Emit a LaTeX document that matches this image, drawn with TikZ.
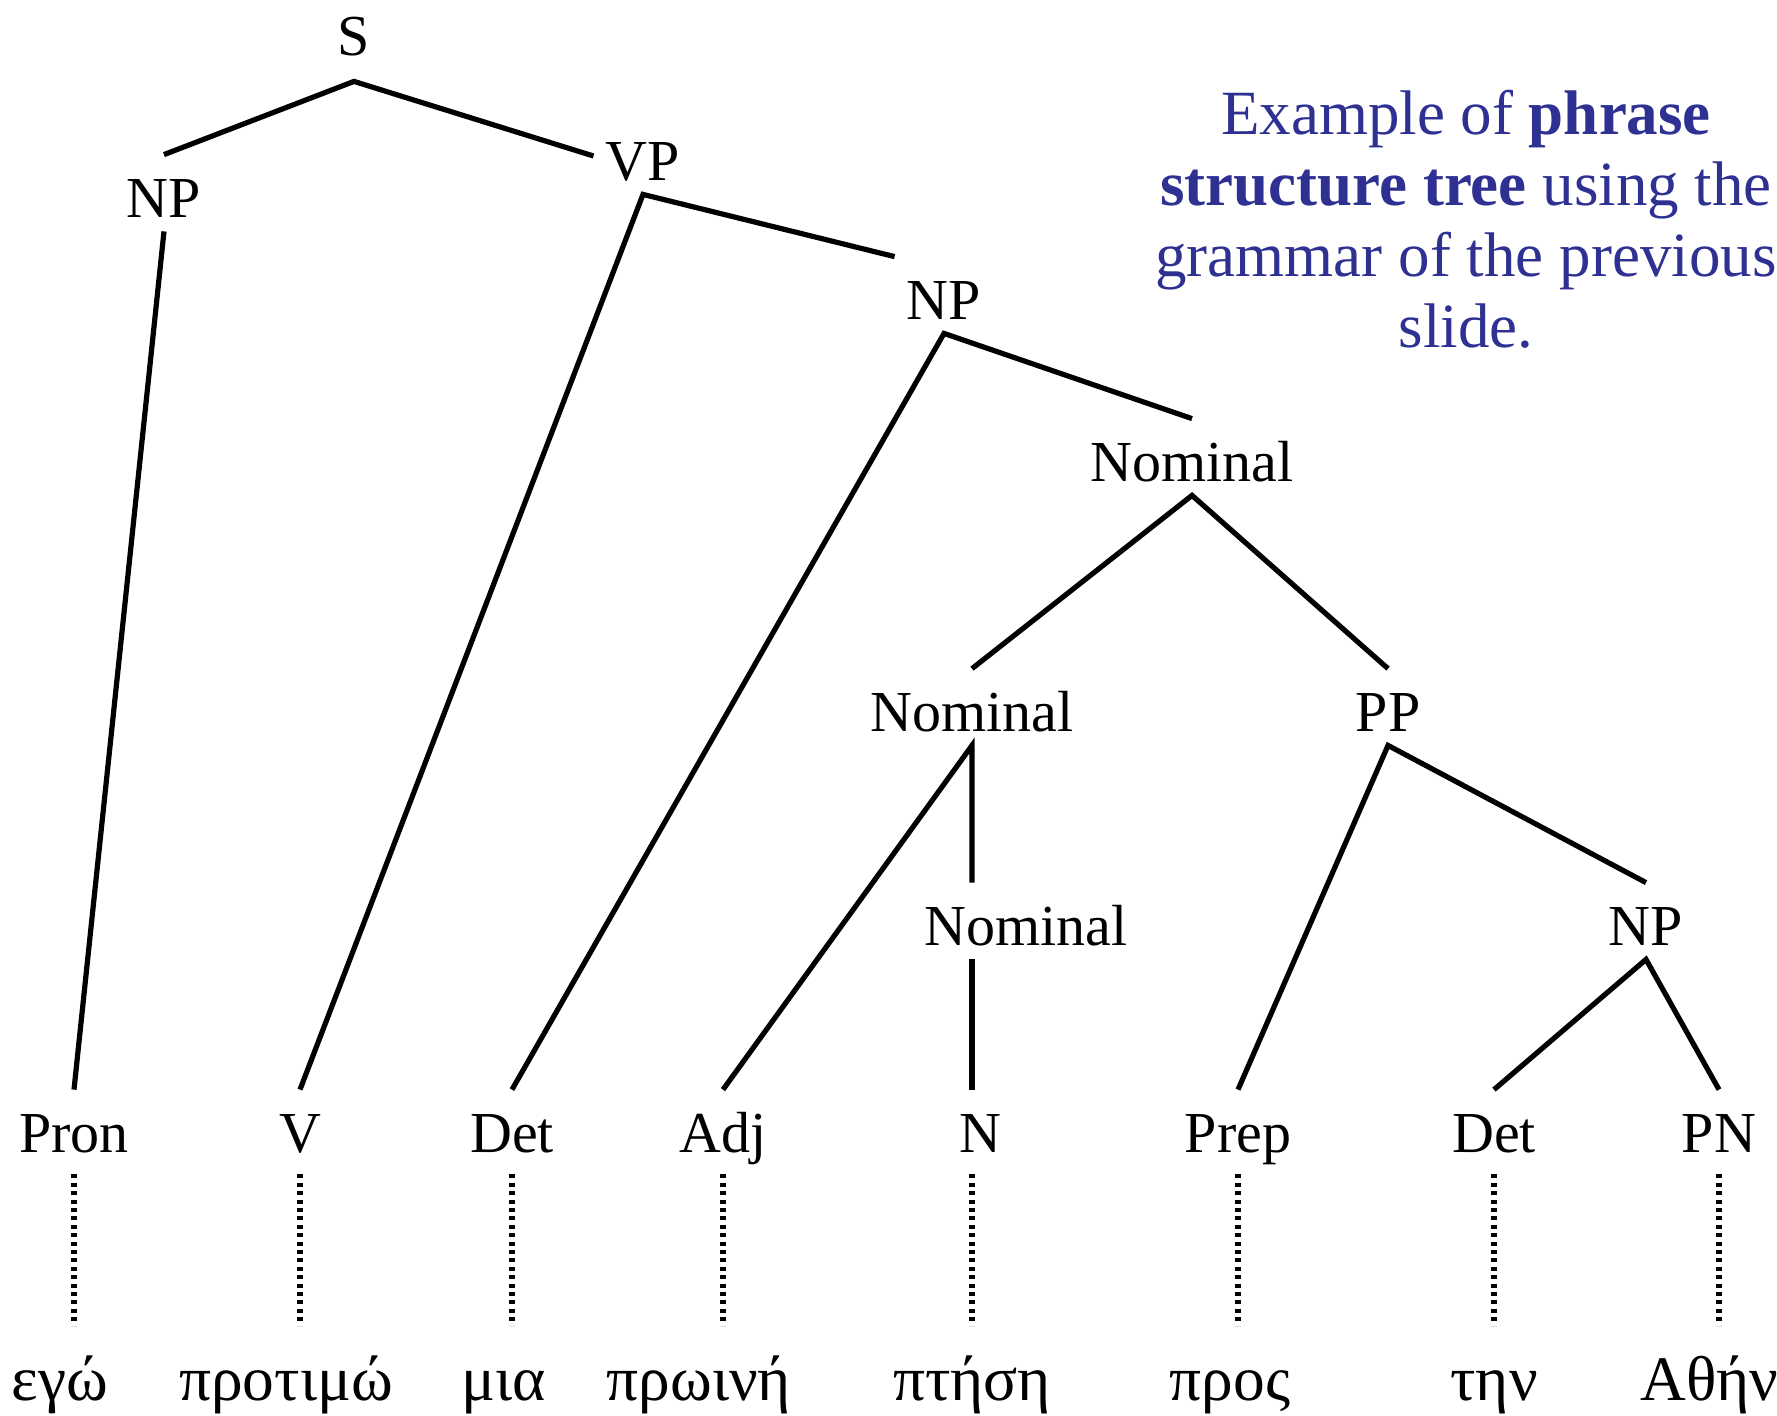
\documentclass[tikz,border=0pt]{standalone}
\usepackage{fontspec}
\setmainfont{Liberation Serif}
\usepackage{tikz}
\usetikzlibrary{positioning}
\definecolor{noteblue}{RGB}{46,49,146}

\begin{document}
\begin{tikzpicture}[
    x=0.5pt, y=-0.5pt,
    cat/.style={anchor=base, inner xsep=6pt, inner ysep=5pt, font=\fontsize{29}{29}\selectfont, text height=26pt, text depth=2pt},
    tag/.style={cat, text depth=6pt},
    word/.style={inner xsep=0pt, inner ysep=15pt, anchor=base, font=\fontsize{31.7}{31.7}\selectfont, text height=22pt},
    branch/.style={line width=2.6pt},
    leaf/.style={line width=2.6pt, dash pattern=on 2pt off 2.2pt}
  ]
    \useasboundingbox (0,0) rectangle (1777,1415);

    % Phrases
    \node[cat, text depth=8pt] (s) at (354,55) {S};
    \node[cat] (np1) at (164,217) {NP};
    \node[cat] (vp) at (643,180) {VP};
    \node[cat] (np2) at (944,319) {NP};
    \node[cat] (nom1) at (1192,481) {Nominal};
    \node[cat] (nom2) at (972,731) {Nominal};
    \node[cat] (pp) at (1388,731) {PP};
    \node[cat] (nom3) at (1026,945) {Nominal};
    \node[cat] (np3) at (1646,945) {NP};

    % Parts of speech
    \node[tag] (pron) at (74,1152) {Pron};
    \node[tag] (v) at (300,1152) {V};
    \node[tag] (det1) at (512,1152) {Det};
    \node[tag] (adj) at (723,1152) {Adj};
    \node[tag] (n) at (980,1152) {N};
    \node[tag] (prep) at (1238,1152) {Prep};
    \node[tag] (det2) at (1494,1152) {Det};
    \node[tag] (pn) at (1719,1152) {PN};

    % Words
    \node[word] (egw) at (60,1400) {εγώ};
    \node[word] (protimw) at (286,1400) {προτιμώ};
    \node[word] (mia) at (504,1400) {μια};
    \node[word] (prwini) at (699,1400) {πρωινή};
    \node[word] (ptisi) at (972,1400) {πτήση};
    \node[word] (pros) at (1230,1400) {προς};
    \node[word] (tin) at (1494,1400) {την};
    \node[word, anchor=base west] (athina) at (1640,1400) {Αθήν};

    % Branches
    \draw[branch] (np1.north) -- (s.south) -- (vp.west);
    \draw[branch] (np1.south) -- (pron.north);
    \draw[branch] (v.north) -- (vp.south) -- (np2.north west);
    \draw[branch] (det1.north) -- (np2.south) -- (nom1.north);
    \draw[branch] (nom2.north) -- (nom1.south) -- (pp.north);
    \draw[branch] (adj.north) -- (nom2.south) -- (nom2.south |- nom3.north);
    \draw[branch] (nom2.south |- nom3.south) -- (nom2.south |- n.north);
    \draw[branch] (prep.north) -- (pp.south) -- (np3.north);
    \draw[branch] (det2.north) -- (np3.south) -- (pn.north);

    % Lexical links
    \draw[leaf] (pron.south) -- (pron.south |- egw.north);
    \draw[leaf] (v.south) -- (v.south |- protimw.north);
    \draw[leaf] (det1.south) -- (det1.south |- mia.north);
    \draw[leaf] (adj.south) -- (adj.south |- prwini.north);
    \draw[leaf] (nom2.south |- n.south) -- (nom2.south |- ptisi.north);
    \draw[leaf] (prep.south) -- (prep.south |- pros.north);
    \draw[leaf] (det2.south) -- (det2.south |- tin.north);
    \draw[leaf] (pn.south) -- (pn.south |- athina.north);

    % Note
    \node[anchor=north, align=center, inner sep=0pt, text=noteblue, font=\fontsize{31.5}{35.5}\selectfont] (note) at (1466,90)
      {Example of \textbf{phrase}\\ \textbf{structure tree} using the\\ grammar of the previous\\ slide.};
  \end{tikzpicture}
\end{document}
